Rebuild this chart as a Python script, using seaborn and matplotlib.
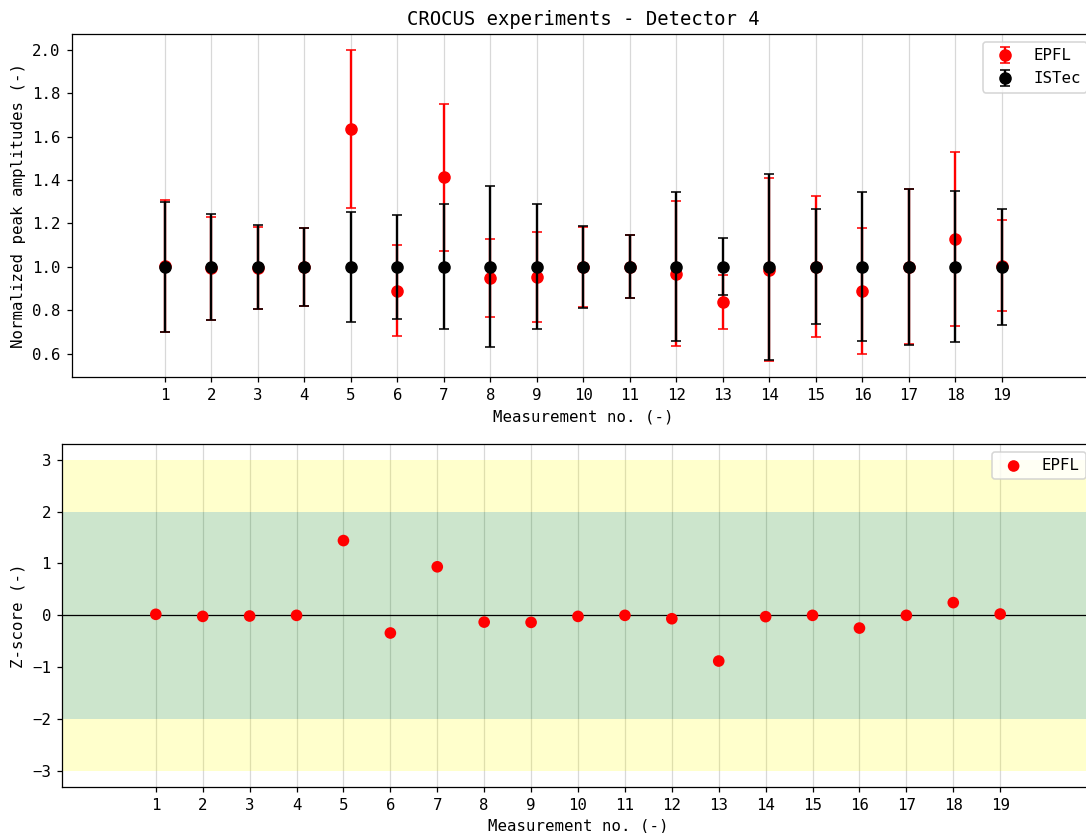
import numpy as np
import pandas as pd
import matplotlib
matplotlib.use("Agg")
import matplotlib.pyplot as plt
import seaborn as sns

measurements = list(range(1, 20))
epfl_val = [1.005, 0.993, 0.995, 1.0, 1.635, 0.891, 1.413, 0.948, 0.954, 0.998,
            1.0, 0.969, 0.839, 0.986, 1.0, 0.888, 1.0, 1.129, 1.005]
epfl_err = [0.304, 0.237, 0.19, 0.18, 0.365, 0.21, 0.338, 0.179, 0.206, 0.185,
            0.145, 0.333, 0.125, 0.422, 0.325, 0.29, 0.357, 0.40, 0.21]
istec_val = [1.0, 1.0, 1.0, 1.0, 1.0, 1.0, 1.0, 1.0, 1.0, 1.0,
             1.0, 1.0, 1.0, 1.0, 1.0, 1.0, 1.0, 1.0, 1.0]
istec_err = [0.30, 0.245, 0.195, 0.18, 0.255, 0.238, 0.288, 0.371, 0.288, 0.19,
             0.145, 0.343, 0.131, 0.427, 0.265, 0.343, 0.36, 0.348, 0.268]
zscore = [0.02, -0.02, -0.013, 0.0, 1.44, -0.34, 0.935, -0.13, -0.135, -0.02,
          0.0, -0.065, -0.88, -0.025, 0.0, -0.245, 0.0, 0.245, 0.025]

sns.set_style("ticks")
plt.rcParams["font.family"] = "monospace"
plt.rcParams["font.monospace"] = ["DejaVu Sans Mono"]
plt.rcParams["axes.edgecolor"] = "black"
plt.rcParams["text.color"] = "black"
plt.rcParams["axes.labelcolor"] = "black"
plt.rcParams["xtick.color"] = "black"
plt.rcParams["ytick.color"] = "black"

dpi = 113
fig = plt.figure(figsize=(1086 / dpi, 833 / dpi), dpi=dpi)
ax1 = fig.add_axes([71.7 / 1086, 1 - 377.3 / 833, (1095 - 71.7) / 1086, (377.3 - 34.3) / 833])
ax2 = fig.add_axes([62 / 1086, 1 - 786.7 / 833, (1094 - 62) / 1086, (786.7 - 444) / 833])

# Top panel
ax1.errorbar(measurements, epfl_val, yerr=epfl_err, fmt="o", color="red",
             markersize=7, capsize=3.5, elinewidth=1.5, label="EPFL", zorder=3)
ax1.errorbar(measurements, istec_val, yerr=istec_err, fmt="o", color="black",
             markersize=7, capsize=3.5, elinewidth=1.5, label="ISTec", zorder=4)
ax1.set_xticks(measurements)
ax1.set_xlim(-1, 21)
ax1.set_ylim(0.491, 2.072)
ax1.set_yticks([0.6, 0.8, 1.0, 1.2, 1.4, 1.6, 1.8, 2.0])
ax1.grid(axis="x", color="gray", alpha=0.3, linewidth=0.8)
ax1.set_xlabel("Measurement no. (-)")
ax1.set_ylabel("Normalized peak amplitudes (-)")
ax1.set_title("CROCUS experiments - Detector 4", fontsize=12)
ax1.legend(loc="upper right")

# Bottom panel
df = pd.DataFrame({"Measurement": measurements, "Z": zscore})
ax2.axhspan(2, 3, color="yellow", alpha=0.2, lw=0)
ax2.axhspan(-3, -2, color="yellow", alpha=0.2, lw=0)
ax2.axhspan(-2, 2, color="green", alpha=0.2, lw=0)
ax2.axhline(0, color="black", lw=0.8, zorder=2)
sns.scatterplot(data=df, x="Measurement", y="Z", ax=ax2, color="red", s=55,
                edgecolor="none", label="EPFL", zorder=3)
ax2.set_xticks(measurements)
ax2.set_xlim(-1, 21)
ax2.set_ylim(-3.3, 3.3)
ax2.set_yticks([-3, -2, -1, 0, 1, 2, 3])
ax2.grid(axis="x", color="gray", alpha=0.3, linewidth=0.8)
ax2.set_xlabel("Measurement no. (-)")
ax2.set_ylabel("Z-score (-)")
ax2.legend(loc="upper right")

fig.savefig("out.png", dpi=dpi)
